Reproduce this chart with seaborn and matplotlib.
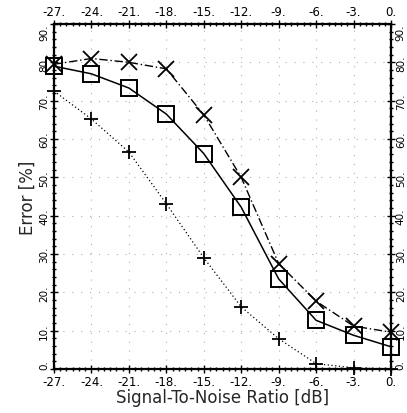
import matplotlib
matplotlib.use("Agg")
import matplotlib.pyplot as plt
import seaborn as sns
import pandas as pd
from matplotlib.ticker import MultipleLocator, FixedLocator

snr = [-27, -24, -21, -18, -15, -12, -9, -6, -3, 0]
err_square = [79, 77, 73.3, 66.5, 56.2, 42.2, 23.5, 12.7, 8.8, 5.8]
err_cross = [79.5, 81, 80, 78.3, 66.3, 50, 27.5, 17.7, 11.2, 9.6]
err_plus = [72.5, 65.2, 56.6, 43.1, 29, 16.2, 7.9, 1.4, 0.3, 0.0]
xticks = [-27, -24, -21, -18, -15, -12, -9, -6, -3, 0]
yticks = [0, 10, 20, 30, 40, 50, 60, 70, 80, 90]

sns.set_style("ticks")
plt.rcParams['font.family'] = ['DejaVu Sans']

fig = plt.figure(figsize=(4.07, 4.14), dpi=100)
ax = fig.add_axes([54/407, 44/414, 337/407, 345/414])

df_sq = pd.DataFrame({"snr": snr, "err": err_square})
df_x = pd.DataFrame({"snr": snr, "err": err_cross})
df_p = pd.DataFrame({"snr": snr, "err": err_plus})

sns.lineplot(data=df_sq, x="snr", y="err", ax=ax, color="black", lw=1.1,
             marker="s", markersize=12, markerfacecolor="none",
             markeredgecolor="black", markeredgewidth=1.4, zorder=3, clip_on=False)
sns.lineplot(data=df_x, x="snr", y="err", ax=ax, color="black", lw=1.0,
             linestyle=(0, (6, 2, 1, 2)),
             marker="x", markersize=11, markeredgecolor="black",
             markeredgewidth=1.3, zorder=3, clip_on=False)
sns.lineplot(data=df_p, x="snr", y="err", ax=ax, color="black", lw=0.9,
             linestyle=(0, (1, 2)),
             marker="+", markersize=10, markeredgecolor="black",
             markeredgewidth=1.3, zorder=3, clip_on=False)

ax.set_xlim(-27, 0)
ax.set_ylim(0, 90)
ax.xaxis.set_major_locator(FixedLocator(xticks))
ax.yaxis.set_major_locator(FixedLocator(yticks))
ax.xaxis.set_minor_locator(MultipleLocator(0.5))
ax.yaxis.set_minor_locator(MultipleLocator(2))

ax.set_xticklabels([f"{v}." for v in xticks])
ax.set_yticklabels([f"{v}." for v in yticks])

ax.tick_params(axis="both", which="both", direction="inout",
               top=True, right=True, labeltop=True, labelright=True,
               colors="black", width=1.0)
ax.tick_params(which="major", length=6, pad=1)
ax.tick_params(axis="x", which="major", labelsize=8.5)
ax.tick_params(axis="y", which="major", labelsize=7.5, pad=0.5)
ax.tick_params(which="minor", length=3)
ticks = ax.yaxis.get_major_ticks()
for i, t in enumerate(ticks):
    va = "center"
    if i == 0:
        va = "bottom"
    elif i == len(ticks) - 1:
        va = "top"
    for lab in (t.label1, t.label2):
        lab.set_rotation(90)
        lab.set_va(va)

for s in ax.spines.values():
    s.set_linewidth(1.6)
    s.set_color("black")

ax.grid(True, which="major", color="#b0b0b0", linestyle=(0, (1, 7)), lw=0.8)

ax.set_xlabel("Signal-To-Noise Ratio [dB]", fontsize=12, labelpad=0)
ax.set_ylabel("Error [%]", fontsize=12, labelpad=2)

fig.savefig("out.png", dpi=100)
